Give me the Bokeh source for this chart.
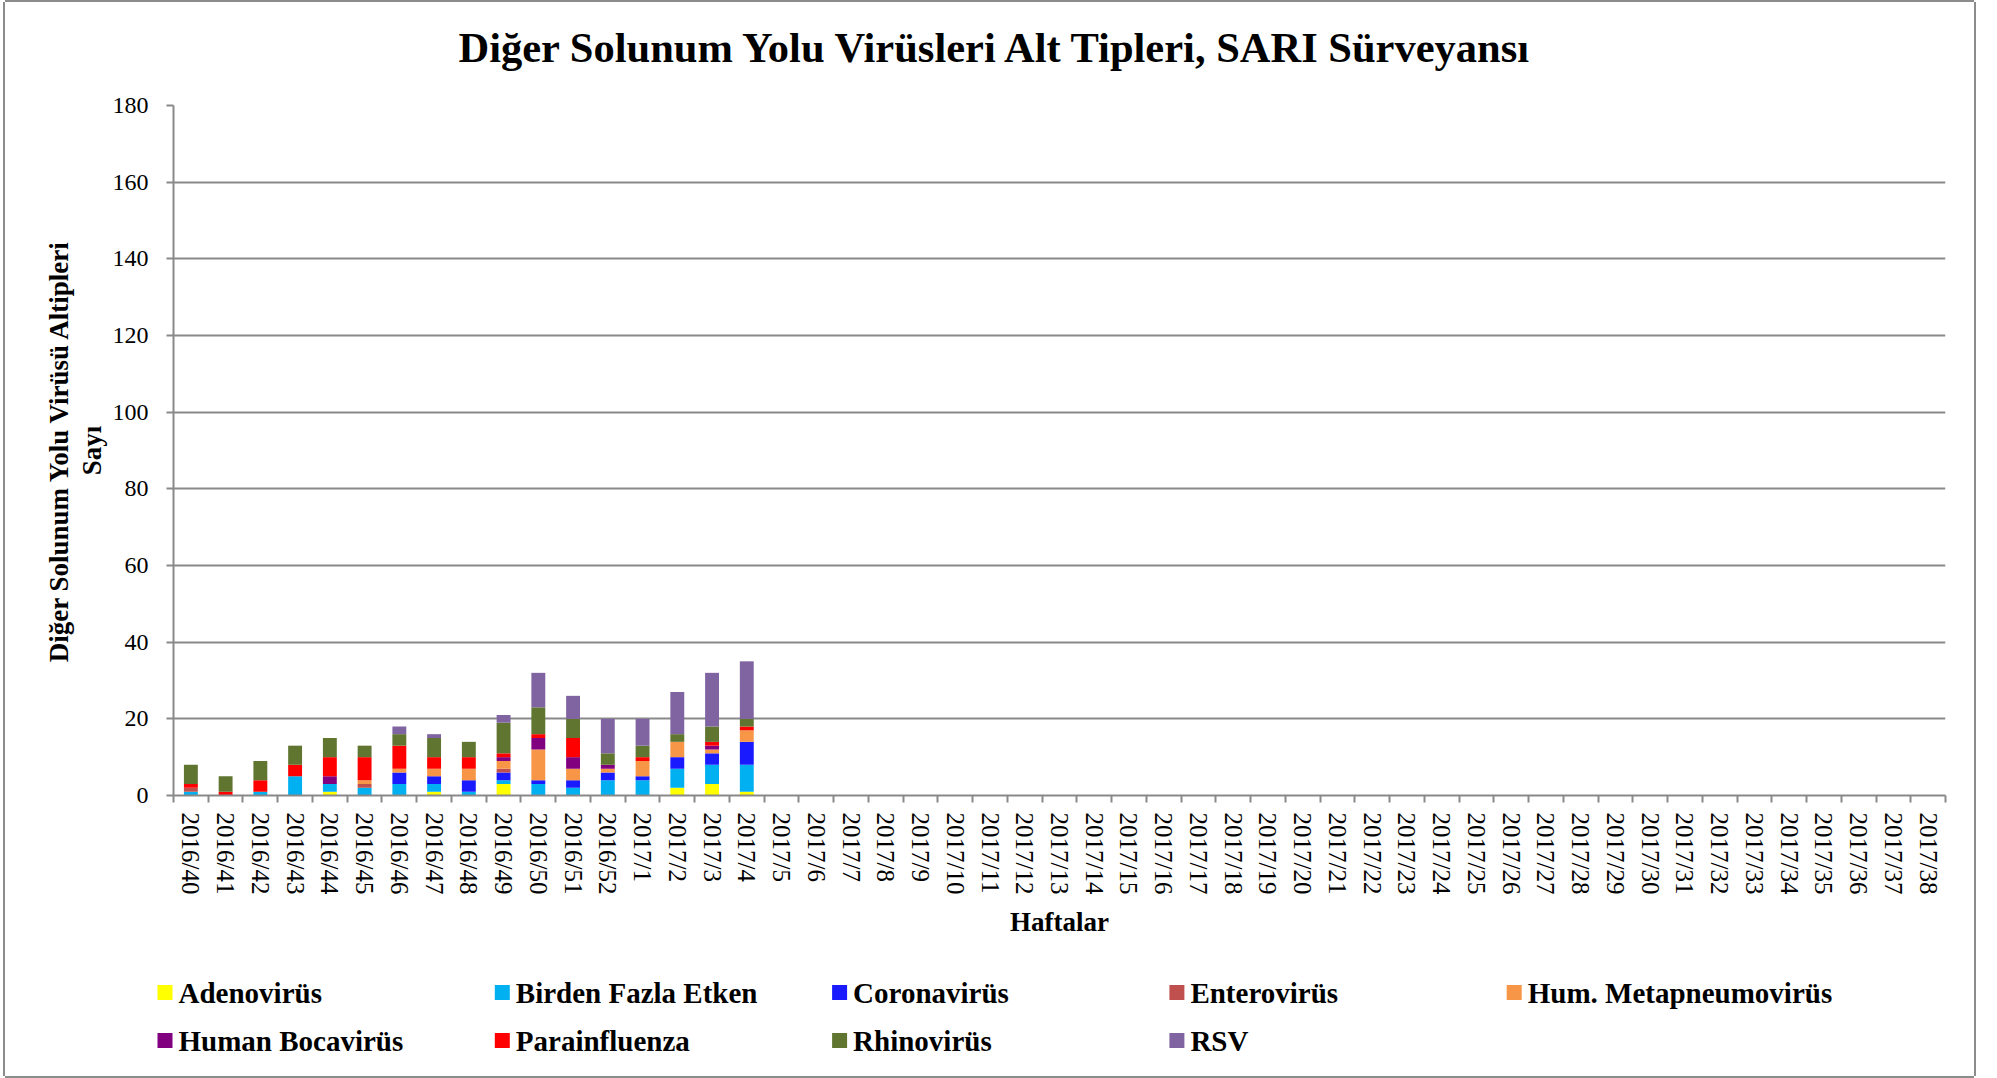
from bokeh.plotting import figure
from bokeh.models import Range1d, FixedTicker, ColumnDataSource, Title
from bokeh.core.properties import value
from bokeh.embed import file_html
from bokeh.resources import INLINE

# ---------------- data ----------------
weeks = [f"2016/{w}" for w in range(40, 53)] + [f"2017/{w}" for w in range(1, 39)]

series_labels = ["Adenovirüs", "Birden Fazla Etken", "Coronavirüs", "Enterovirüs",
                 "Hum. Metapneumovirüs", "Human Bocavirüs", "Parainfluenza",
                 "Rhinovirüs", "RSV"]
series_keys = ["adeno", "birden", "corona", "entero", "hmpv", "boca", "para", "rhino", "rsv"]
series_colors = ["#FFFF00", "#00B0F0", "#1A1AFF", "#C0504D", "#F79646",
                 "#800080", "#FF0000", "#5F7530", "#8064A2"]

# weeks 2016/40 .. 2017/4; later weeks are empty
rest = [0] * 34
adeno  = [0, 0, 0, 0, 1, 0, 0, 1, 0, 3, 0, 0, 0, 0, 2, 3, 1] + rest
birden = [1, 0, 1, 5, 2, 2, 3, 2, 1, 1, 3, 2, 4, 4, 5, 5, 7] + rest
corona = [0, 0, 0, 0, 0, 0, 3, 2, 3, 2, 1, 2, 2, 1, 3, 3, 6] + rest
entero = [1, 0, 0, 0, 0, 1, 0, 0, 0, 1, 0, 0, 0, 0, 0, 0, 0] + rest
hmpv   = [0, 0, 0, 0, 0, 1, 1, 2, 3, 2, 8, 3, 1, 4, 4, 1, 3] + rest
boca   = [0, 0, 0, 0, 2, 0, 0, 0, 0, 1, 3, 3, 1, 0, 0, 1, 0] + rest
para   = [1, 1, 3, 3, 5, 6, 6, 3, 3, 1, 1, 5, 0, 1, 0, 1, 1] + rest
rhino  = [5, 4, 5, 5, 5, 3, 3, 5, 4, 8, 7, 5, 3, 3, 2, 4, 2] + rest
rsv    = [0, 0, 0, 0, 0, 0, 2, 1, 0, 2, 9, 6, 9, 7, 11, 14, 15] + rest

y_ticks = [0, 20, 40, 60, 80, 100, 120, 140, 160, 180]

title_text = "Diğer Solunum Yolu Virüsleri Alt Tipleri, SARI Sürveyansı"
y_label = "Diğer Solunum Yolu Virüsü Altipleri\nSayı"
x_label = "Haftalar"

# ---------------- main figure ----------------
FONT = "Liberation Serif"
GRAY = "#898989"
BORDER = "#8c8c8c"
n = len(weeks)
xs = [i + 0.5 for i in range(n)]

data = dict(x=xs, adeno=adeno, birden=birden, corona=corona, entero=entero, hmpv=hmpv,
            boca=boca, para=para, rhino=rhino, rsv=rsv)
source = ColumnDataSource(data)

p = figure(frame_width=1772, frame_height=690, x_range=Range1d(0, n), y_range=Range1d(0, 180),
           output_backend="svg", toolbar_location=None,
           min_border_left=168, min_border_right=29, min_border_top=103, min_border_bottom=155)
p.outline_line_color = None
p.background_fill_color = "white"
p.border_fill_color = "white"
p.styles = {"margin": "2px 0px 0px 5px",
            "box-shadow": f"-2px 0 0 0 {BORDER}, 2px 0 0 0 {BORDER}, 0 -2px 0 0 {BORDER}"}

# title (a blank spacer title sits between it and the frame)
p.add_layout(Title(text=" ", text_font_size="10px", standoff=17), "above")
p.title.text = title_text
p.title.text_font = FONT
p.title.text_font_style = "bold"
p.title.text_font_size = "42.5px"
p.title.text_color = "black"
p.title.align = "left"
p.title.offset = 285
p.title.vertical_align = "bottom"
p.title.standoff = 10

# y axis
yax = p.yaxis[0]
yax.ticker = FixedTicker(ticks=y_ticks)
yax.axis_line_color = GRAY
yax.axis_line_width = 2
yax.major_tick_out = 7
yax.major_tick_in = 0
yax.major_tick_line_color = GRAY
yax.major_tick_line_width = 2
yax.minor_tick_line_color = None
yax.major_label_text_font = FONT
yax.major_label_text_font_size = "24px"
yax.major_label_text_color = "black"
yax.major_label_standoff = 18
yax.axis_label = y_label
yax.axis_label_text_font = FONT
yax.axis_label_text_font_style = "bold"
yax.axis_label_text_font_size = "27px"
yax.axis_label_text_line_height = 1.08
yax.axis_label_text_color = "black"
yax.axis_label_standoff = 3

# x axis
xax = p.xaxis[0]
xax.ticker = FixedTicker(ticks=xs, minor_ticks=list(range(n + 1)))
xax.major_label_overrides = {x: w for x, w in zip(xs, weeks)}
xax.major_label_orientation = "vertical"
xax.axis_line_color = GRAY
xax.axis_line_width = 2
xax.major_tick_out = 0
xax.major_tick_in = 0
xax.minor_tick_out = 7
xax.minor_tick_in = 0
xax.minor_tick_line_color = GRAY
xax.minor_tick_line_width = 2
xax.major_label_text_font = FONT
xax.major_label_text_font_size = "25px"
xax.major_label_text_color = "black"
xax.major_label_standoff = 10
xax.axis_label = x_label
xax.axis_label_text_font = FONT
xax.axis_label_text_font_style = "bold"
xax.axis_label_text_font_size = "27px"
xax.axis_label_text_color = "black"
xax.axis_label_standoff = 10

p.xgrid.visible = False
p.ygrid.grid_line_color = GRAY
p.ygrid.grid_line_width = 2

# bars
p.vbar_stack(series_keys, x="x", width=0.4, color=series_colors,
             line_color=None, source=source)

# ---------------- legend strip (5 equal columns, 2 rows) ----------------
LEG_W, LEG_H = 1969, 126
leg = figure(frame_width=LEG_W, frame_height=LEG_H, x_range=Range1d(0, LEG_W),
             y_range=Range1d(LEG_H, 0), output_backend="svg", toolbar_location=None,
             x_axis_type=None, y_axis_type=None, min_border=0)
leg.outline_line_color = None
leg.xgrid.visible = False
leg.ygrid.visible = False
leg.background_fill_color = "white"
leg.border_fill_color = "white"
leg.styles = {"margin": "0px 0px 0px 5px",
              "box-shadow": f"-2px 0 0 0 {BORDER}, 2px 0 0 0 {BORDER}, 0 2px 0 0 {BORDER}"}

col_x0, col_step, sq = 152, 337.3, 15
row_y = [42, 90]
sq_x = [col_x0 + (k % 5) * col_step + sq / 2 for k in range(len(series_labels))]
txt_x = [col_x0 + (k % 5) * col_step + sq + 6 for k in range(len(series_labels))]
it_y = [row_y[k // 5] for k in range(len(series_labels))]

leg.rect(x=sq_x, y=it_y, width=sq, height=sq, fill_color=series_colors, line_color=None)
leg.text(x=txt_x, y=it_y, text=series_labels, text_font=value(FONT),
         text_font_style="bold", text_font_size="29px", text_color="black",
         text_align="left", text_baseline="middle")

open("out.html", "w").write(file_html([p, leg], INLINE))
